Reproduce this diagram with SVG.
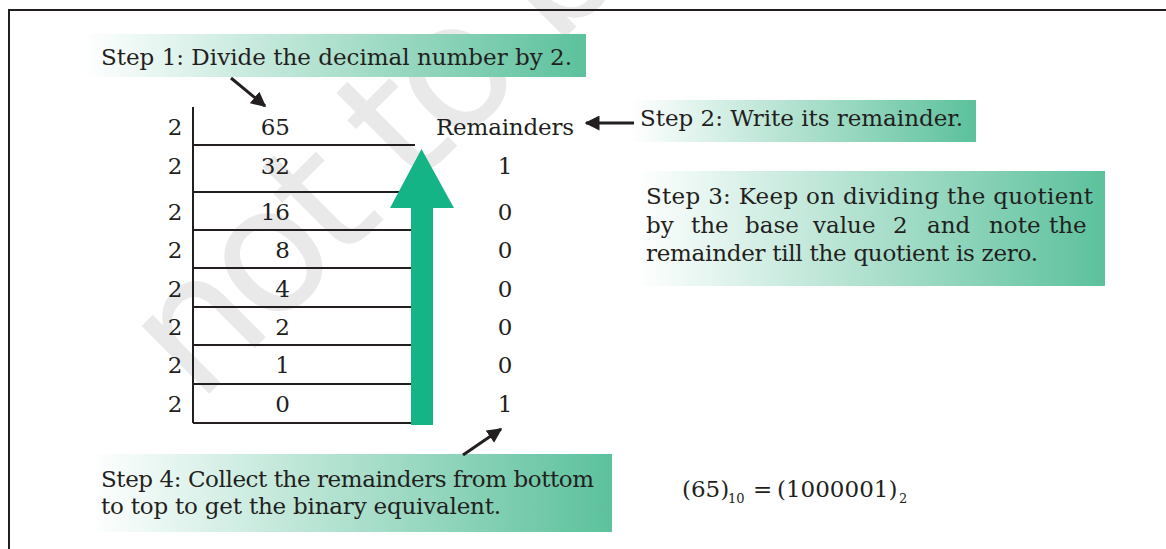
<svg xmlns="http://www.w3.org/2000/svg" width="1166" height="549" viewBox="0 0 1166 549">
<style>
  .t { font-family: "DejaVu Serif", "Liberation Serif", serif; font-size: 23px; fill: #231f20; }
  .sub { font-family: "DejaVu Serif", "Liberation Serif", serif; font-size: 13px; fill: #231f20; }
  .ln { stroke: #231f20; stroke-width: 2; fill: none; }
  .arr { stroke: #231f20; stroke-width: 3; fill: none; marker-end: url(#ah); }
  .wm { font-family: "DejaVu Sans", "Liberation Sans", sans-serif; font-size: 175px; letter-spacing: -10px; fill: #e9e9e9; }
</style>
<defs>
  <linearGradient id="g" x1="0" y1="0" x2="1" y2="0">
    <stop offset="0" stop-color="#ffffff"/>
    <stop offset="1" stop-color="#5cc19c"/>
  </linearGradient>
  <marker id="ah" viewBox="0 0 10 10" refX="9" refY="5" markerWidth="5" markerHeight="5" orient="auto">
    <path d="M0,0 L10,5 L0,10 z" fill="#231f20"/>
  </marker>
</defs>
<rect width="1166" height="549" fill="#ffffff"/>
<text class="wm" transform="translate(198,405) rotate(-45)">not to be</text>
<path class="ln" d="M9,549 V10 H1166" stroke-width="2.5"/>

<g id="step1">
  <rect x="82" y="34" width="504" height="43" fill="url(#g)"/>
  <text class="t" x="101" y="65" textLength="471" lengthAdjust="spacing">Step 1: Divide the decimal number by 2.</text>
</g>
<g id="step2">
  <rect x="630" y="100" width="346" height="42" fill="url(#g)"/>
  <text class="t" x="640" y="126" textLength="323" lengthAdjust="spacing">Step 2: Write its remainder.</text>
</g>
<g id="step3">
  <rect x="636" y="171" width="469" height="115" fill="url(#g)"/>
  <text class="t" x="646" y="204" textLength="447" lengthAdjust="spacing">Step 3: Keep on dividing the quotient</text>
  <text class="t" y="233"><tspan x="646">by</tspan><tspan x="691">the</tspan><tspan x="745">base</tspan><tspan x="813">value</tspan><tspan x="893">2</tspan><tspan x="927">and</tspan><tspan x="989">note</tspan><tspan x="1049">the</tspan></text>
  <text class="t" x="646" y="261" textLength="392" lengthAdjust="spacing">remainder till the quotient is zero.</text>
</g>
<g id="step4">
  <rect x="90" y="454" width="522" height="78" fill="url(#g)"/>
  <text class="t" x="101" y="487" textLength="493" lengthAdjust="spacing">Step 4: Collect the remainders from bottom</text>
  <text class="t" x="101" y="514" textLength="400" lengthAdjust="spacing">to top to get the binary equivalent.</text>
</g>

<g id="table">
  <path class="ln" d="M193,107 V423"/>
  <path class="ln" d="M193,145 H415 M193,192 H411 M193,230 H411 M193,268 H411 M193,307 H411 M193,345 H411 M193,384 H411 M193,423 H411"/>
  <g class="t" text-anchor="middle">
    <text x="175" y="135">2</text>
    <text x="175" y="174">2</text>
    <text x="175" y="220">2</text>
    <text x="175" y="258">2</text>
    <text x="175" y="297">2</text>
    <text x="175" y="335">2</text>
    <text x="175" y="373">2</text>
    <text x="175" y="412">2</text>
  </g>
  <g class="t" text-anchor="end">
    <text x="290" y="135">65</text>
    <text x="290" y="174">32</text>
    <text x="290" y="220">16</text>
    <text x="290" y="258">8</text>
    <text x="290" y="297">4</text>
    <text x="290" y="335">2</text>
    <text x="290" y="373">1</text>
    <text x="290" y="412">0</text>
  </g>
</g>

<g id="remainders">
  <text class="t" x="436" y="135" textLength="138" lengthAdjust="spacing">Remainders</text>
  <g class="t" text-anchor="middle">
    <text x="505" y="174">1</text>
    <text x="505" y="220">0</text>
    <text x="505" y="258">0</text>
    <text x="505" y="297">0</text>
    <text x="505" y="335">0</text>
    <text x="505" y="373">0</text>
    <text x="505" y="412">1</text>
  </g>
</g>

<g id="bigarrow">
  <path d="M411,425 V208 H390 L421.5,149 L454,208 H433 V425 z" fill="#15b487"/>
</g>

<g id="formula">
  <text class="t" x="682" y="497">(65)</text>
  <text class="sub" x="728" y="503">10</text>
  <text class="t" x="753" y="497">=</text>
  <text class="t" x="777" y="497">(1000001)</text>
  <text class="sub" x="899" y="503">2</text>
</g>

<g id="connectors">
  <line class="arr" x1="231" y1="78" x2="265" y2="106"/>
  <line class="arr" x1="634" y1="123" x2="586" y2="123"/>
  <line class="arr" x1="463" y1="455" x2="501" y2="429"/>
</g>
</svg>
